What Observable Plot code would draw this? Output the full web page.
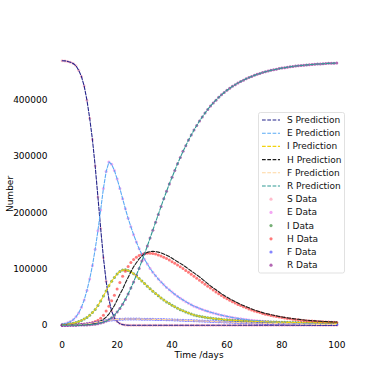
<!DOCTYPE html>
<html><head><meta charset="utf-8">
<script src="https://cdn.jsdelivr.net/npm/d3@7"></script>
<script src="https://cdn.jsdelivr.net/npm/@observablehq/plot@0.6"></script>
<style>html,body{margin:0;padding:0;background:#fff;} #chart{width:388px;height:388px;}</style>
</head><body><div id="chart"></div>
<script>
const days = Array.from({length: 101}, (_, i) => i);
const xTicks = [0, 20, 40, 60, 80, 100];
const yTicks = [0, 100000, 200000, 300000, 400000];
const xLabel = "Time /days";
const yLabel = "Number";

const sPred = [
470000,469700,468800,467200,465000,461000,453000,442000,425000,400000,
368000,330000,283000,228000,172000,120000,78000,46000,25000,13000,
6500,3000,1200,400,100,0,0,0,0,0,
0,0,0,0,0,0,0,0,0,0,
0,0,0,0,0,0,0,0,0,0,
0,0,0,0,0,0,0,0,0,0,
0,0,0,0,0,0,0,0,0,0,
0,0,0,0,0,0,0,0,0,0,
0,0,0,0,0,0,0,0,0,0,
0,0,0,0,0,0,0,0,0,0,
0];
const ePred = [
2000,2800,4500,6500,10000,15000,22000,32000,45000,62000,
82000,106000,135000,168000,205000,243000,273000,290000,286000,275000,
260000,243000,225000,207000,190000,175000,161000,148000,136000,126000,
117000,109000,101000,94000,88000,82000,77000,72000,67000,63000,
59000,55000,51500,48000,45000,42000,39000,36500,34000,32000,
30000,28000,26300,24700,23200,21800,20400,19200,18000,16900,
15800,14800,13900,13000,12200,11500,10800,10100,9500,8900,
8400,7900,7400,7000,6600,6200,5800,5500,5200,4900,
4600,4300,4100,3900,3700,3500,3300,3100,2950,2800,
2650,2500,2400,2300,2200,2100,2000,1900,1800,1700,
1600];
const iPred = [
1000,1300,1800,2500,3500,5000,6500,8500,11000,14000,
18000,22500,28000,35000,43000,52000,61000,70000,78000,85000,
91000,95500,98000,98500,97500,95000,91500,87500,83000,78500,
74000,69500,65000,60500,56500,52500,48500,45000,41500,38500,
35500,32800,30200,27800,25600,23600,21700,20000,18400,17000,
16000,15100,14300,13500,12800,12200,11600,11000,10500,10000,
9600,9200,8900,8600,8300,8000,7800,7500,7300,7100,
6900,6700,6500,6350,6200,6050,5900,5750,5600,5500,
5400,5300,5200,5100,5000,4900,4800,4700,4600,4500,
4500,4400,4300,4250,4200,4100,4050,4000,3950,3900,
3900];
const hPred = [
200,300,400,500,600,800,1000,1200,1500,1800,
2200,2800,3800,5200,7500,10500,14500,20000,27000,35000,
45000,55000,64000,75000,85000,95000,104000,111000,118000,123000,
127000,129500,131000,131500,131000,130000,128500,126500,124500,122000,
119000,116000,113000,110000,107000,103500,100000,96500,93000,89500,
86000,82000,78000,74000,70000,66500,63000,59500,56000,53000,
50000,47000,44500,42000,39500,37000,35000,33000,31000,29000,
27000,25500,24000,22500,21000,20000,18800,17700,16700,15700,
14800,14000,13200,12500,11800,11200,10600,10000,9500,9000,
8600,8200,7800,7500,7200,6900,6600,6300,6100,5900,
5700];
const fPred = [
0,100,200,300,500,700,1000,1400,1900,2500,
3200,4000,4800,5700,6600,7400,8200,8900,9500,10000,
10400,10700,10900,11000,11100,11100,11100,11000,11000,10900,
10800,10700,10600,10500,10400,10300,10200,10100,10000,9900,
9700,9500,9300,9100,8900,8700,8500,8300,8100,7900,
7700,7500,7300,7100,6900,6700,6500,6300,6100,5900,
5700,5500,5300,5100,4900,4700,4500,4350,4200,4050,
3900,3750,3600,3450,3300,3200,3100,3000,2900,2800,
2700,2600,2500,2400,2300,2200,2100,2000,1900,1850,
1800,1700,1650,1600,1500,1450,1400,1350,1300,1250,
1200];
const rPred = [
0,0,0,100,100,200,300,400,500,700,
1000,1300,2000,2800,4000,5500,7500,10000,13500,18000,
23500,30000,37500,46000,55500,66000,77000,89000,101000,114000,
127000,141000,155000,169000,183000,197000,211000,225000,238000,251000,
263000,275000,287000,298000,309000,319000,329000,338000,347000,355000,
363000,370000,377000,383500,389500,395000,400000,405000,409500,413500,
417500,421000,424500,427500,430500,433000,435500,438000,440000,442000,
444000,445800,447400,449000,450400,451700,452900,454000,455000,456000,
456900,457700,458500,459200,459900,460500,461100,461600,462100,462600,
463000,463400,463800,464100,464400,464700,465000,465300,465500,465700,
466000];

// observed data (coincides with the predictions except H)
const sData = sPred;
const eData = ePred;
const iData = iPred;
const hData = [
200,300,400,600,800,1000,1300,1700,2200,2800,
3600,4800,6500,8800,12500,18000,25500,34000,43500,53500,
64500,76000,87000,96000,104500,111500,117000,121000,124000,126000,
127500,128000,128000,127500,126500,125000,123000,121000,118500,116000,
113000,110000,107000,104000,101000,97500,94000,90500,87000,83500,
80000,76500,73000,69500,66000,62500,59000,56000,53000,50000,
47000,44500,42000,39500,37000,35000,33000,31000,29000,27200,
25500,24000,22500,21000,19800,18600,17500,16400,15400,14500,
13600,12800,12100,11400,10700,10100,9600,9100,8600,8200,
7800,7400,7000,6700,6400,6100,5800,5600,5400,5200,
5000];
const fData = fPred;
const rData = rPred;

const predNames = ["S Prediction","E Prediction","I Prediction","H Prediction","F Prediction","R Prediction"];
const dataNames = ["S Data","E Data","I Data","H Data","F Data","R Data"];
const predColors = ["#23238a","#5aaaf5","#f2d30f","#1c1c1c","#ffd6a0","#2f9a94"];
const dataColors = ["#ffb6c8","#ee82ee","#1a7a1a","#ff2020","#2020ff","#800080"];
const dataOpacity = [0.9,0.7,0.6,0.6,0.55,0.6];
const predSeries = [sPred,ePred,iPred,hPred,fPred,rPred];
const dataSeries = [sData,eData,iData,hData,fData,rData];

const toRows = (arr) => days.map((d, i) => ({day: d, value: arr[i]}));

const marks = [
  Plot.axisY({ticks: yTicks, tickSize: 0, tickPadding: 1, tickFormat: d => String(d), label: null}),
  Plot.axisX({ticks: xTicks, tickSize: 0, tickPadding: 3, label: null}),
];
dataSeries.forEach((arr, k) => {
  marks.push(Plot.dot(toRows(arr), {x: "day", y: "value", r: 1.5, fill: dataColors[k], fillOpacity: dataOpacity[k], stroke: "none"}));
});
predSeries.forEach((arr, k) => {
  marks.push(Plot.line(toRows(arr), {x: "day", y: "value", stroke: predColors[k], strokeWidth: 1.1, strokeDasharray: "3.7,1.6"}));
});

const chart = Plot.plot({
  width: 388, height: 388,
  marginLeft: 48, marginRight: 38, marginTop: 47, marginBottom: 50,
  x: {domain: [-5, 105]},
  y: {domain: [-23500, 493500]},
  style: {fontFamily: "'DejaVu Sans', sans-serif", fontSize: "9px", color: "#000", background: "#fff"},
  marks
});
document.getElementById("chart").appendChild(chart);

const svg = d3.select(chart);
// axis titles
svg.append("text").attr("transform", "translate(10,194) rotate(-90)").attr("text-anchor", "middle")
  .attr("dy", "0.35em").attr("font-size", 9).attr("fill", "#000").text(yLabel);
svg.append("text").attr("x", 199).attr("y", 355).attr("text-anchor", "middle")
  .attr("dy", "0.35em").attr("font-size", 9).attr("fill", "#000").text(xLabel);

// legend
const lg = svg.append("g").attr("font-family", "'DejaVu Sans', sans-serif").attr("font-size", 9).attr("text-anchor", "start");
lg.append("rect").attr("x", 258.5).attr("y", 112.5).attr("width", 86).attr("height", 160.5)
  .attr("rx", 2).attr("fill", "#fff").attr("fill-opacity", 0.85).attr("stroke", "#d9d9d9").attr("stroke-width", 0.8);
const labels = predNames.concat(dataNames);
labels.forEach((name, i) => {
  const y = 120 + i * 13.2;
  if (i < 6) {
    lg.append("line").attr("x1", 262).attr("x2", 280).attr("y1", y).attr("y2", y)
      .attr("stroke", predColors[i]).attr("stroke-width", 1.1).attr("stroke-dasharray", "3.7,1.6");
  } else {
    lg.append("circle").attr("cx", 271).attr("cy", y).attr("r", 1.6)
      .attr("fill", dataColors[i - 6]).attr("fill-opacity", dataOpacity[i - 6]);
  }
  lg.append("text").attr("x", 287).attr("y", y).attr("dy", "0.33em").attr("fill", "#111").text(name);
});
</script>
</body></html>
